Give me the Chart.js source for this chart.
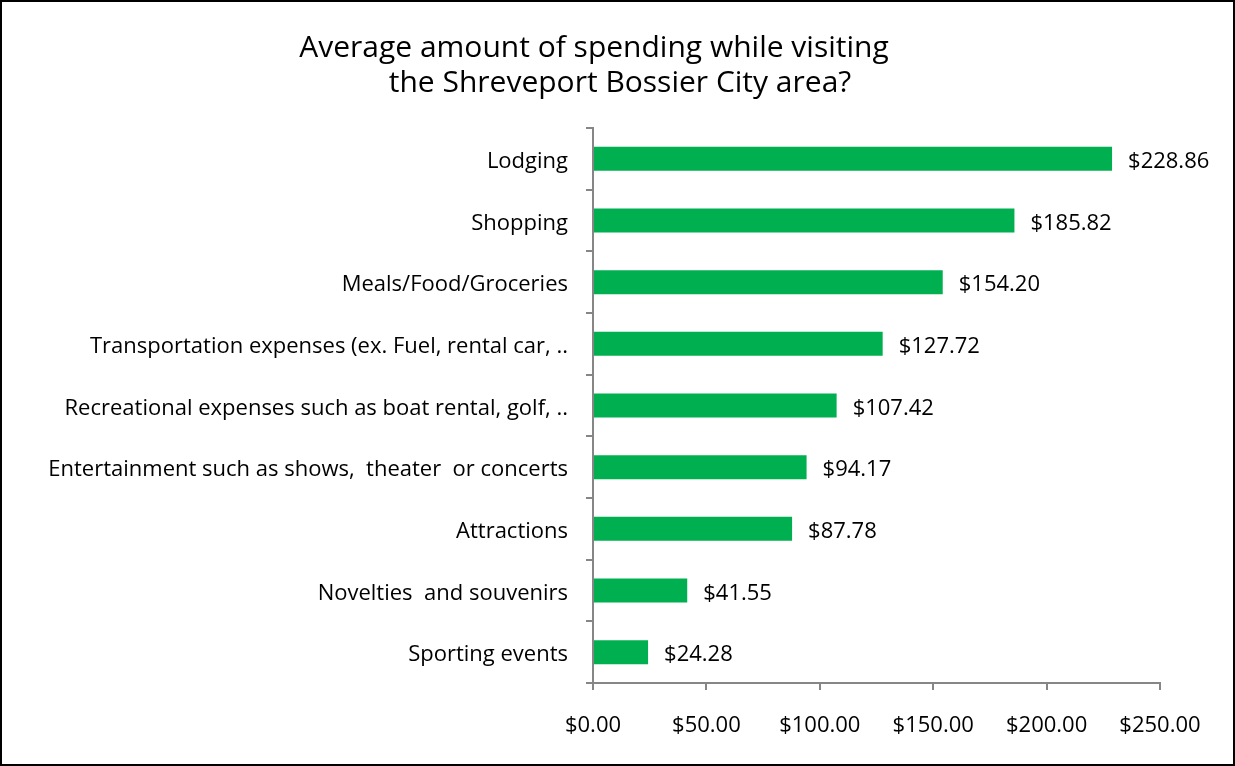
<!DOCTYPE html>
<html>
<head>
<meta charset="utf-8">
<script src="https://cdn.jsdelivr.net/npm/chart.js@4"></script>
<style>
  body { margin: 0; background: #fff; }
  #wrap { width: 1235px; height: 766px; position: relative; }
</style>
</head>
<body>
<div id="wrap"><canvas id="spendChart" width="1235" height="766"></canvas></div>
<script>
const titleLines = ["Average amount of spending while visiting", "the Shreveport Bossier City area?"];
const categories = [
    "Lodging",
    "Shopping",
    "Meals/Food/Groceries",
    "Transportation expenses (ex. Fuel, rental car, ..",
    "Recreational expenses such as boat rental, golf, ..",
    "Entertainment such as shows,  theater  or concerts",
    "Attractions",
    "Novelties  and souvenirs",
    "Sporting events"
];
const spending = [228.86, 185.82, 154.20, 127.72, 107.42, 94.17, 87.78, 41.55, 24.28];
const xTicks = [0, 50, 100, 150, 200, 250];

const money = v => "$" + Number(v).toFixed(2);
const FONT = "'Open Sans', Lato, sans-serif";

// white background, black frame and the two-line title
const framePlugin = {
    id: 'frame',
    beforeDraw(chart) {
        const ctx = chart.ctx;
        ctx.save();
        ctx.fillStyle = '#fff';
        ctx.fillRect(0, 0, chart.width, chart.height);
        ctx.strokeStyle = '#000';
        ctx.lineWidth = 2;
        ctx.strokeRect(1, 1, chart.width - 2, chart.height - 2);

        ctx.fillStyle = '#000';
        ctx.font = "30px " + FONT;
        ctx.textAlign = 'center';
        ctx.textBaseline = 'middle';
        ctx.fillText(titleLines[0], 594, 48);
        ctx.fillText(titleLines[1], 620, 83);
        ctx.restore();
    }
};

// value labels to the right of each bar
const valueLabels = {
    id: 'valueLabels',
    afterDatasetsDraw(chart) {
        const ctx = chart.ctx;
        const meta = chart.getDatasetMeta(0);
        ctx.save();
        ctx.font = "22px " + FONT;
        ctx.fillStyle = '#000';
        ctx.textAlign = 'left';
        ctx.textBaseline = 'middle';
        meta.data.forEach((bar, i) => {
            ctx.fillText(money(spending[i]), bar.x + 16, bar.y + 3);
        });
        ctx.restore();
    }
};

const ctx = document.getElementById('spendChart').getContext('2d');
new Chart(ctx, {
    type: 'bar',
    data: {
        labels: categories,
        datasets: [{
            data: spending,
            backgroundColor: '#00B050',
            borderWidth: 0,
            categoryPercentage: 1,
            barPercentage: 0.39
        }]
    },
    options: {
        indexAxis: 'y',
        responsive: false,
        animation: false,
        layout: { padding: { left: 0, right: 75, top: 128, bottom: 0 } },
        plugins: {
            legend: { display: false },
            tooltip: { enabled: false },
            title: { display: false }
        },
        scales: {
            x: {
                min: 0,
                max: 250,
                afterBuildTicks: s => { s.ticks = xTicks.map(v => ({ value: v })); },
                afterFit: s => { s.height = 766 - 683; },
                grid: { drawOnChartArea: false, drawTicks: true, tickLength: 7, color: '#868686', lineWidth: 2 },
                border: { color: '#868686', width: 2 },
                ticks: {
                    color: '#000',
                    padding: 23,
                    maxRotation: 0,
                    font: { family: FONT, size: 22 },
                    callback: v => money(v)
                }
            },
            y: {
                afterFit: s => { s.width = 593; },
                grid: { offset: true, drawOnChartArea: false, drawTicks: true, tickLength: 7, color: '#868686', lineWidth: 2 },
                border: { color: '#868686', width: 2 },
                ticks: {
                    color: '#000',
                    padding: 18,
                    labelOffset: 3,
                    autoSkip: false,
                    font: { family: FONT, size: 22 }
                }
            }
        }
    },
    plugins: [framePlugin, valueLabels]
});
</script>
</body>
</html>
